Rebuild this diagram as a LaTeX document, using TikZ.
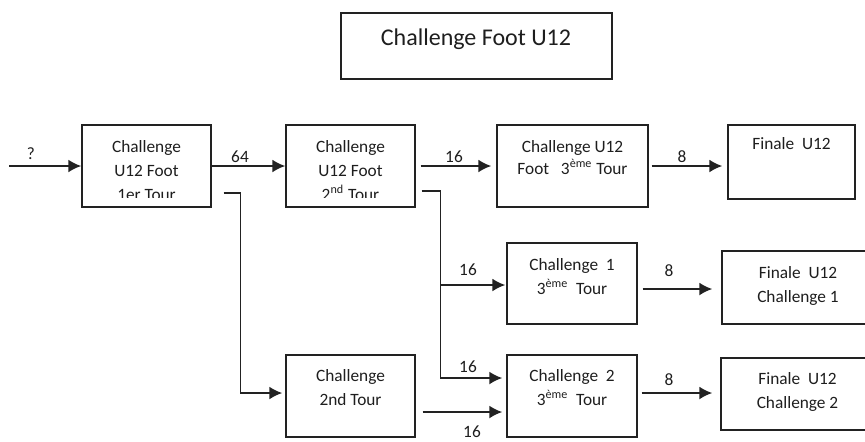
\documentclass[tikz,border=0pt]{standalone}
\usepackage{fontspec}
\setmainfont{Carlito}
\usetikzlibrary{positioning,calc,arrows.meta}
\definecolor{ink}{HTML}{222222}
\definecolor{textgray}{HTML}{1E1E1E}

\begin{document}
\begin{tikzpicture}[x=0.5pt,y=-0.5pt,
  box/.style={draw=ink,line width=0.7pt,inner sep=0pt},
  txt/.style={font=\fontsize{8.65}{12}\selectfont,align=center,inner sep=0pt,anchor=north,text=textgray},
  lbl/.style={font=\fontsize{8.65}{10}\selectfont,inner sep=0pt,text=textgray},
  arr/.style={-{Latex[length=6.5pt,width=6.5pt]},line width=1pt,color=ink},
  thinline/.style={line width=0.6pt,color=ink}]
\clip (0,0) rectangle (865,441);
\node[box,minimum width=135.5pt,minimum height=33pt] (title) at (476.5,46) {};
\node[font=\fontsize{12}{14}\selectfont,anchor=north,inner sep=0pt,text=textgray] (titlet) at (476,28) {Challenge Foot U12};
\foreach \n/\x/\y/\w/\h in {A/146.5/166/129/82,B/350.5/166/129/82,C/572.5/166/151/82,D/791.5/162/127/74,
  E/350.5/396/129/82,F/572/283.5/130/81,G/572/396/130/82,H/798/287.5/152/73,I/797.5/394/153/72}
  \node[box,minimum width=\w*0.5pt,minimum height=\h*0.5pt] (\n) at (\x,\y) {};
\foreach \n/\t in {A/{Challenge\\U12 Foot\\1er Tour},B/{Challenge\\U12 Foot\\2\textsuperscript{nd} Tour}}{
  \begin{scope}
  \clip (\n.north west) rectangle ($(\n.south east)+(0,-10)$);
  \node[txt] (\n t) at ($(\n.north)+(0,16)$) {\t};
  \end{scope}}
\foreach \n/\d/\t in {C/16/{Challenge U12\\[-1pt]Foot~~~3\textsuperscript{ème} Tour},D/13/{Finale~~U12},
  E/15/{Challenge\\2nd Tour},F/16/{Challenge~~1\\3\textsuperscript{ème}~~Tour},G/15/{Challenge~~2\\3\textsuperscript{ème}~~Tour},
  H/16/{Finale~~U12\\Challenge 1},I/15/{Finale~~U12\\Challenge 2}}
  \node[txt] (\n t) at ($(\n.north)+(0,\d)$) {\t};
\foreach \n/\x/\y/\t in {l0/31/154/?,l1/240/157/64,l2/454/157/16,l3/682/157/8,l4/468/270/16,
  l5/468/367/16,l6/472/432/16,l7/669/271/8,l8/669/380/8}
  \node[lbl] (\n) at (\x,\y) {\t};
\coordinate (in) at (9,166);
\draw[arr] (in) -- (A.west);
\draw[arr] (A.east) -- (B.west);
\draw[arr,shorten <=2.5pt,shorten >=2.5pt] (B.east) -- (C.west);
\draw[arr,shorten <=1.5pt,shorten >=2.5pt] (C.east) -- (C.east -| D.west);
\coordinate (a1) at ($(A.east)+(12,27)$);
\coordinate (a2) at ($(E.west)+(-45,-3)$);
\draw[thinline] (a1) -| (a2);
\draw[arr,shorten >=1.5pt] (a2) -- (a2 -| E.west);
\coordinate (b1) at ($(B.east)+(6,25)$);
\coordinate (b2) at ($(G.west)+(-66,-18)$);
\draw[thinline] (b1) -| (b2);
\draw[arr,shorten >=2pt] (b2) -- (b2 -| G.west);
\coordinate (b3) at ($(b2 |- F.west)+(0,1.5)$);
\draw[arr,shorten >=0.5pt] (b3) -- (b3 -| F.west);
\draw[arr,shorten <=3.5pt,shorten >=2pt] ($(E.east)+(0,16)$) -- ($(G.west)+(0,16)$);
\draw[arr,shorten <=2.5pt,shorten >=4.5pt] ($(F.east)+(0,5.5)$) -- ($(F.east -| H.west)+(0,5.5)$);
\draw[arr,shorten <=2pt,shorten >=4pt] ($(G.east)+(0,-3)$) -- ($(G.east -| I.west)+(0,-3)$);
\end{tikzpicture}
\end{document}
